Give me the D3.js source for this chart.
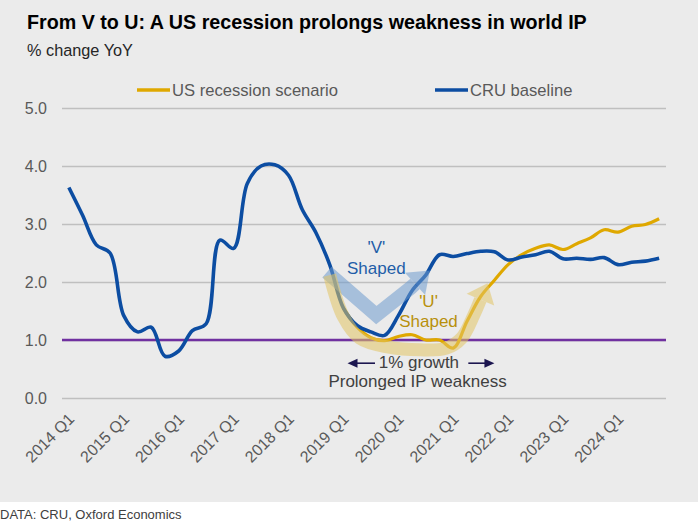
<!DOCTYPE html>
<html>
<head>
  <meta charset="utf-8">
  <script src="https://d3js.org/d3.v7.min.js"></script>
  <style>
    body { margin: 0; background: #fff; }
    text { font-family: "Liberation Sans", Arial, sans-serif; }
  </style>
</head>
<body>
<script>

  // quarters 2014 Q1 .. 2024 Q4
  var years = [2014, 2015, 2016, 2017, 2018, 2019, 2020, 2021, 2022, 2023, 2024];
  var quarters = [];
  years.forEach(function(y) {
    [1, 2, 3, 4].forEach(function(q) { quarters.push(y + " Q" + q); });
  });

  // CRU baseline, % change YoY
  var baseline = [3.63, 3.15, 2.64, 2.5, 1.42, 1.14, 1.22, 0.72, 0.81, 1.16,
                  1.28, 2.72, 2.58, 3.7, 4.0, 4.02, 3.84, 3.25, 2.85, 2.3,
                  1.55, 1.25, 1.14, 1.08, 1.42, 1.85, 2.12, 2.47, 2.44, 2.49,
                  2.53, 2.52, 2.38, 2.43, 2.47, 2.53, 2.4, 2.41, 2.39, 2.42,
                  2.3, 2.34, 2.36, 2.41];

  // US recession scenario (splits off the baseline in 2019 Q1)
  var recession = [null, null, null, null, null, null, null, null, null, null,
                   null, null, null, null, null, null, null, null, null, null,
                   1.55, 1.22, 1.04, 0.99, 1.06, 1.09, 1.0, 1.0, 0.86, 1.32,
                   1.75, 2.03, 2.3, 2.47, 2.58, 2.64, 2.56, 2.66, 2.76, 2.9,
                   2.86, 2.96, 2.99, 3.09];

  var yTicks = [0, 1, 2, 3, 4, 5];
  var threshold = 1.0;

  var width = 698, height = 523;

  var svg = d3.select("body").append("svg")
      .attr("width", width)
      .attr("height", height);

  // grey panel, white strip for the source line
  svg.append("rect").attr("width", width).attr("height", 502).attr("fill", "#ebebeb");

  svg.append("text")
      .attr("x", 27).attr("y", 29)
      .style("font-size", "19.7px").style("font-weight", "bold").attr("fill", "#000")
      .text("From V to U: A US recession prolongs weakness in world IP");
  svg.append("text")
      .attr("x", 27).attr("y", 56)
      .style("font-size", "16.3px").attr("fill", "#262626")
      .text("% change YoY");

  var x = d3.scalePoint().domain(quarters).range([62, 666]).padding(0.5);
  var y = d3.scaleLinear().domain([0, 5]).range([398, 108]);
  // helper for annotation positions in quarter index units
  var xi = function(i) { return x(quarters[0]) + i * x.step(); };

  // gridlines + y labels
  var yAxis = svg.append("g")
      .attr("transform", "translate(62,0)")
      .call(d3.axisLeft(y).tickValues(yTicks).tickSize(-604).tickFormat(d3.format(".1f")));
  yAxis.select(".domain").remove();
  yAxis.selectAll("line").attr("stroke", "#bfbfbf").attr("stroke-width", 1.3);
  yAxis.selectAll("text").attr("x", -15).attr("fill", "#595959").style("font-size", "16px");

  // x labels (Q1 only)
  var xAxis = svg.append("g")
      .attr("transform", "translate(0,398)")
      .call(d3.axisBottom(x).tickValues(quarters.filter(function(q) { return /Q1$/.test(q); })).tickSize(0));
  xAxis.select(".domain").remove();
  xAxis.selectAll("text")
      .attr("fill", "#595959")
      .style("font-size", "16px")
      .style("text-anchor", "end")
      .attr("dy", 0).attr("y", 0)
      .attr("transform", "translate(6,22) rotate(-45)");

  // 1% line
  svg.append("line")
      .attr("x1", 62).attr("x2", 666)
      .attr("y1", y(threshold)).attr("y2", y(threshold))
      .attr("stroke", "#7030a0").attr("stroke-width", 2.5);

  var line = d3.line()
      .defined(function(d) { return d != null; })
      .x(function(d, i) { return x(quarters[i]); })
      .y(function(d) { return y(d); })
      .curve(d3.curveCatmullRom.alpha(0.5));

  svg.append("path").datum(recession)
      .attr("d", line).attr("fill", "none")
      .attr("stroke", "#dfa800").attr("stroke-width", 3.2);
  svg.append("path").datum(baseline)
      .attr("d", line).attr("fill", "none")
      .attr("stroke", "#0c4da2").attr("stroke-width", 3.6);

  // arrow helper: thick translucent band ending in a triangle head
  function bigArrow(pts, color, w, headLen, headW, curve) {
    var p = pts.map(function(d) { return [xi(d[0]), y(d[1])]; });
    var tip = p[p.length - 1], prev = p[p.length - 2];
    var dx = tip[0] - prev[0], dy = tip[1] - prev[1], L = Math.sqrt(dx * dx + dy * dy);
    var ux = dx / L, uy = dy / L;
    var base = [tip[0] - ux * headLen, tip[1] - uy * headLen];
    var body = p.slice(0, -1).concat([base]);
    var g = svg.append("g").attr("opacity", 0.55);
    g.append("path")
        .attr("d", d3.line().curve(curve)(body))
        .attr("fill", "none").attr("stroke", color).attr("stroke-width", w);
    g.append("path")
        .attr("d", "M" + tip + "L" + [base[0] - uy * headW, base[1] + ux * headW] +
                   "L" + [base[0] + uy * headW, base[1] - ux * headW] + "Z")
        .attr("fill", color);
  }

  // 'V' shaped
  bigArrow([[18.8, 2.17], [22.4, 1.43], [24.9, 1.9], [26.3, 2.2]], "#6f9ccf", 14, 20, 15, d3.curveLinear);
  // 'U' shaped
  bigArrow([[19.0, 2.12], [20.0, 1.40], [21.2, 1.03], [23.2, 0.88], [25.6, 0.83],
            [27.5, 0.86], [28.6, 1.03], [29.5, 1.43], [30.5, 1.98]],
           "#e3c565", 13, 18, 15, d3.curveCatmullRom.alpha(0.5));

  svg.append("text").attr("x", xi(22.4)).attr("y", y(2.5))
      .attr("text-anchor", "middle").attr("fill", "#1f5ea8").style("font-size", "17px").text("'V'");
  svg.append("text").attr("x", xi(22.4)).attr("y", y(2.14))
      .attr("text-anchor", "middle").attr("fill", "#1f5ea8").style("font-size", "17px").text("Shaped");
  svg.append("text").attr("x", xi(26.2)).attr("y", y(1.57))
      .attr("text-anchor", "middle").attr("fill", "#b8900c").style("font-size", "17px").text("'U'");
  svg.append("text").attr("x", xi(26.2)).attr("y", y(1.23))
      .attr("text-anchor", "middle").attr("fill", "#b8900c").style("font-size", "17px").text("Shaped");

  // 1% growth span
  svg.append("text").attr("x", xi(25.5)).attr("y", y(0.52))
      .attr("text-anchor", "middle").attr("fill", "#404040").style("font-size", "17px").text("1% growth");
  svg.append("text").attr("x", xi(25.4)).attr("y", y(0.19))
      .attr("text-anchor", "middle").attr("fill", "#404040").style("font-size", "17px").text("Prolonged IP weakness");

  function smallArrow(from, to) {
    var x1 = xi(from), x2 = xi(to), yy = y(0.6), dir = x2 > x1 ? 1 : -1;
    svg.append("line").attr("x1", x1).attr("x2", x2 - dir * 8).attr("y1", yy).attr("y2", yy)
        .attr("stroke", "#1c1650").attr("stroke-width", 1.6);
    svg.append("path")
        .attr("d", "M" + x2 + "," + yy + "L" + (x2 - dir * 10) + "," + (yy - 4.5) +
                   "L" + (x2 - dir * 10) + "," + (yy + 4.5) + "Z")
        .attr("fill", "#1c1650");
  }
  smallArrow(22.3, 20.3);
  smallArrow(29.1, 31.0);

  // legend
  var legend = [["US recession scenario", "#dfa800", 137], ["CRU baseline", "#0c4da2", 435]];
  legend.forEach(function(l) {
    svg.append("line").attr("x1", l[2]).attr("x2", l[2] + 33).attr("y1", 90).attr("y2", 90)
        .attr("stroke", l[1]).attr("stroke-width", 3.5);
    svg.append("text").attr("x", l[2] + 35).attr("y", 96)
        .attr("fill", "#595959").style("font-size", "16.6px").text(l[0]);
  });

  svg.append("text").attr("x", 0).attr("y", 519)
      .attr("fill", "#404040").style("font-size", "13px").text("DATA: CRU, Oxford Economics");

</script>
</body>
</html>
